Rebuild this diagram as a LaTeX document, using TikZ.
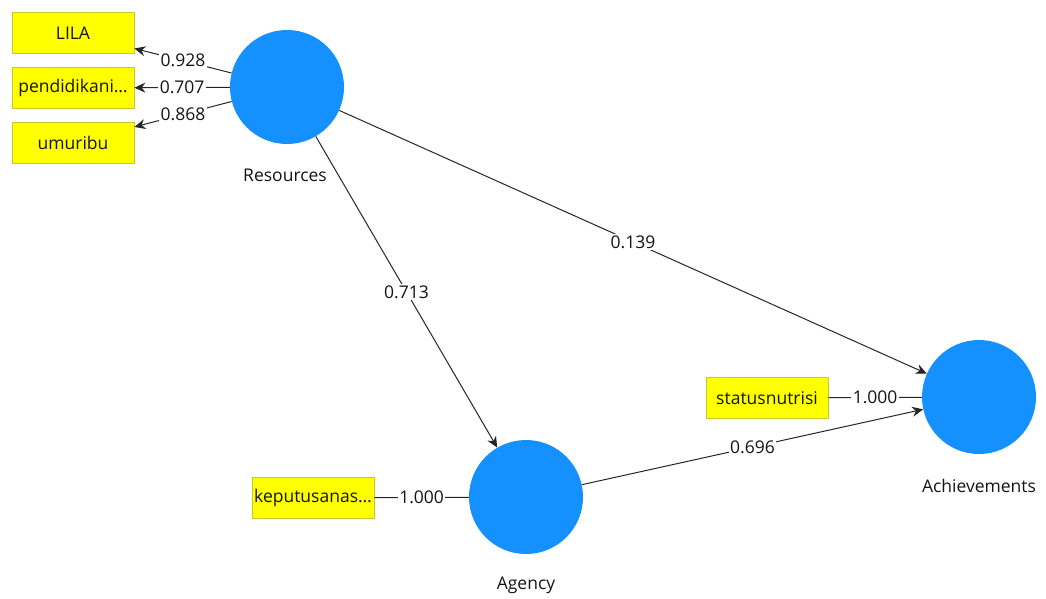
\documentclass[tikz,border=0pt]{standalone}
\usepackage{fontspec}
\setmainfont{Open Sans}
\usetikzlibrary{arrows.meta}
\definecolor{lv}{RGB}{20,145,255}
\definecolor{mv}{RGB}{255,255,0}
\definecolor{mvborder}{RGB}{200,200,40}
\definecolor{txt}{RGB}{20,20,20}
\tikzset{
  latent/.style={circle, fill=lv, draw=none, minimum size=114pt, inner sep=0pt},
  manifest/.style={rectangle, fill=mv, draw=mvborder, line width=0.8pt, minimum width=122pt, minimum height=41pt, inner sep=0pt, font=\fontsize{17.5}{19}\selectfont, text=txt},
  lvname/.style={font=\fontsize{17.5}{19}\selectfont, text=txt},
  coef/.style={fill=white, inner sep=1.5pt, font=\fontsize{17.5}{19}\selectfont, text=txt},
  path/.style={draw=black!85, line width=1pt, -{Stealth[length=11pt,width=10pt]}},
  link/.style={draw=black!85, line width=1pt}
}
\begin{document}
\begin{tikzpicture}[x=1pt,y=-1pt]
\useasboundingbox (0,0) rectangle (1046,598);
\node[latent] (res) at (287,87) {};
\node[latent] (agc) at (526,497) {};
\node[latent] (ach) at (979,397) {};
\node[lvname] (resl) at (285,175) {Resources};
\node[lvname] (agcl) at (526,585) {Agency};
\node[lvname] (achl) at (979,486) {Achievements};
\node[manifest] (lila) at (73,33) {LILA};
\node[manifest] (pend) at (73,88) {pendidikani…};
\node[manifest] (umur) at (73,143) {umuribu};
\node[manifest] (stat) at (767,398) {statusnutrisi};
\node[manifest] (kep) at (313,498) {keputusanas…};
\draw[path] (res) -- node[coef] {0.928} (lila);
\draw[path] (res) -- node[coef] {0.707} (pend);
\draw[path] (res) -- node[coef] {0.868} (umur);
\draw[link] (stat) -- node[coef] {1.000} (ach);
\draw[link] (kep) -- node[coef] {1.000} (agc);
\draw[path] (res) -- node[coef] {0.713} (agc);
\draw[path] (res) -- node[coef] {0.139} (ach);
\draw[path] (agc) -- node[coef] {0.696} (ach);
\end{tikzpicture}
\end{document}
